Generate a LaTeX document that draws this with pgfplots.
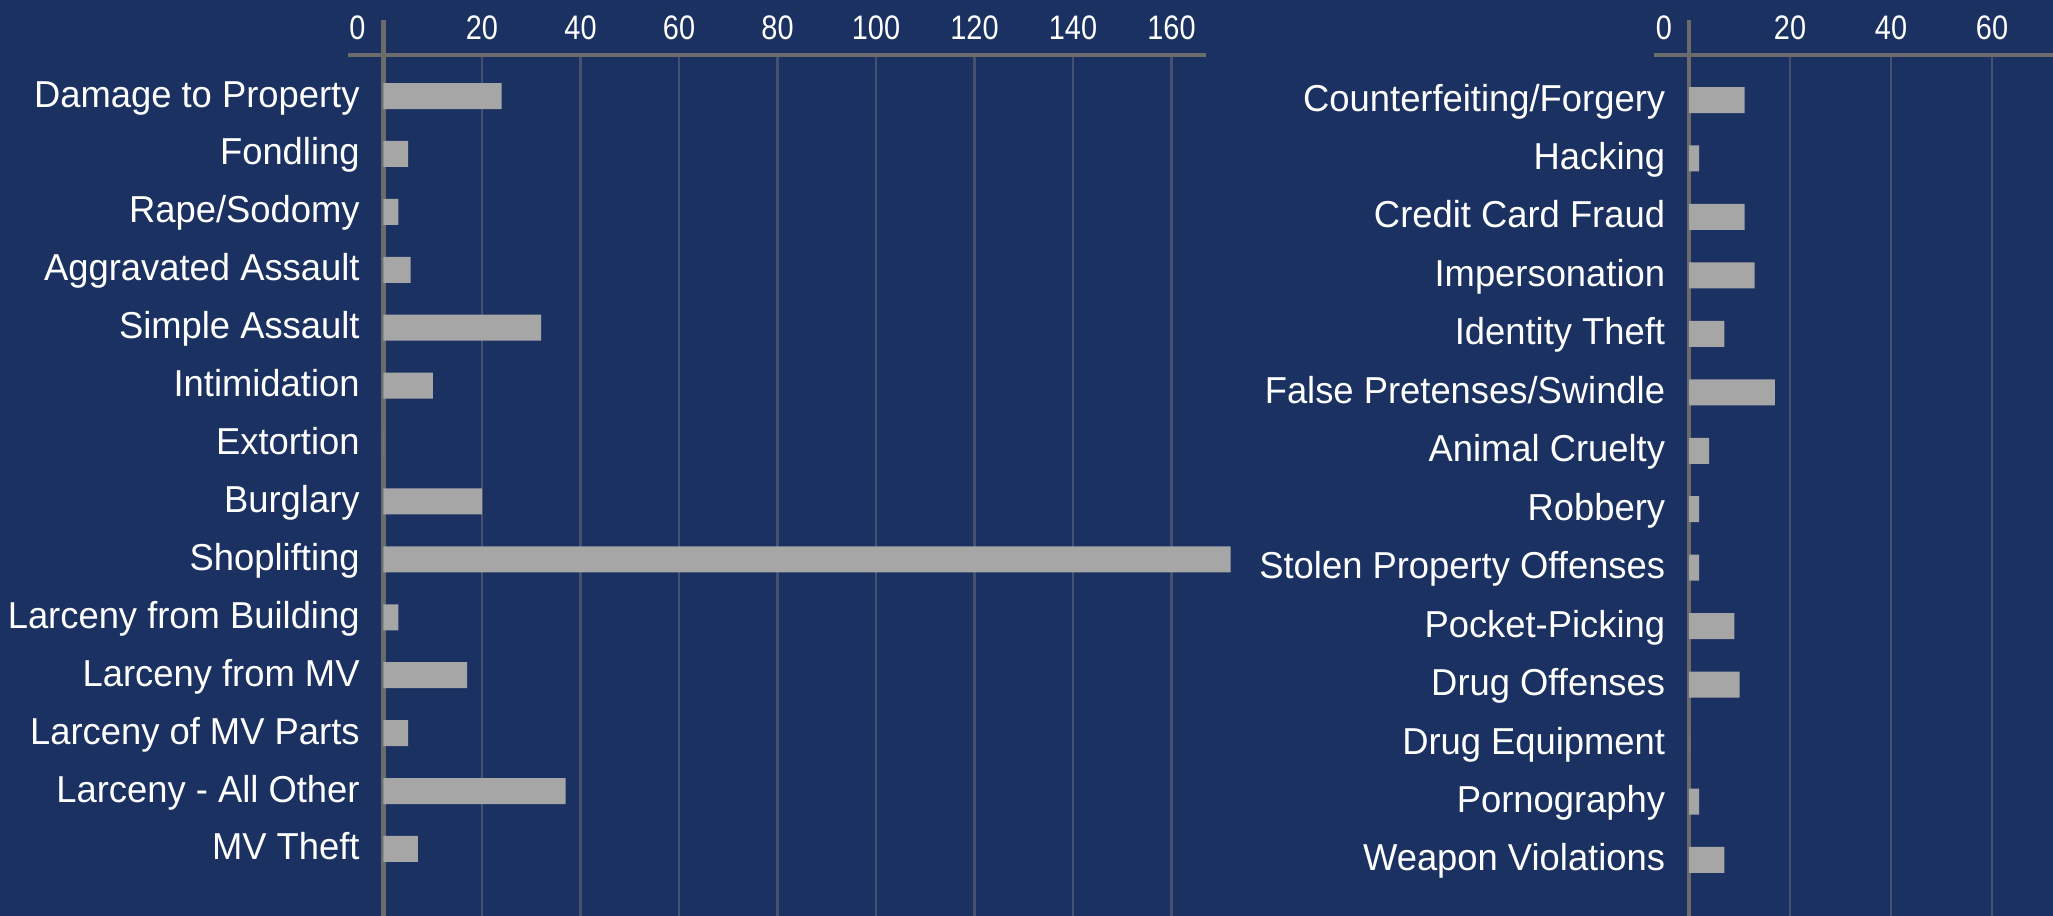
\documentclass[border=0pt]{standalone}
\usepackage{fontspec}
\setmainfont[FakeStretch=0.97]{Liberation Sans}
\newfontfamily\tickfont[FakeStretch=0.85]{Liberation Sans}
\usepackage{pgfplots}
\pgfplotsset{compat=1.18}
\definecolor{bgnavy}{HTML}{1A3161}
\definecolor{barfill}{HTML}{A6A6A6}
\definecolor{axisgray}{HTML}{6B6B6B}
\definecolor{gridc}{HTML}{45526F}

\pgfplotsset{
  crimestyle/.style={
    scale only axis, anchor=south west, height=430.5pt,
    xmin=0, clip=false,
    axis x line*=top, axis y line*=left,
    x axis line style={-, line width=2pt, color=axisgray, shorten <=-17.75pt},
    y axis line style={-, line width=2.2pt, color=axisgray, shorten >=-17.5pt},
    xmajorgrids, ymajorgrids=false,
    grid style={line width=1.25pt, color=gridc},
    major tick length=0pt, tick style={draw=none},
    xticklabel style={font=\tickfont\fontsize{17}{18}\selectfont, text=white, anchor=base, inner sep=0pt, yshift=7.85pt},
    yticklabel style={font=\fontsize{18.75}{20}\selectfont, text=white, anchor=base east, inner sep=0pt, xshift=-11.75pt, yshift=-5.5pt},
    ytick={0,...,13},
    xbar, bar width=13pt, bar shift=0pt,
  }
}

\begin{document}
\begin{tikzpicture}
\fill[bgnavy] (0,0) rectangle (1026.5pt,458pt);

\begin{pgfinterruptboundingbox}
% Left panel
\begin{axis}[crimestyle,
  at={(191.75pt,0pt)}, width=411.25pt,
  xmax=167, ymin=-1.157, ymax=13.708,
  xtick={0,20,40,60,80,100,120,140,160},
  xticklabels={\makebox[0pt][r]{0\hspace{9pt}},20,40,60,80,100,120,140,160},
  yticklabels={MV Theft, Larceny - All Other, Larceny of MV Parts, Larceny from MV, Larceny from Building, Shoplifting, Burglary, Extortion, Intimidation, Simple Assault, Aggravated Assault, Rape/Sodomy, Fondling, Damage to Property},
]
\addplot[fill=barfill, draw=none] coordinates {
  (24,13) (5,12) (3,11) (5.5,10) (32,9) (10,8) (0,7)
  (20,6) (172,5) (3,4) (17,3) (5,2) (37,1) (7,0)
};
\end{axis}

% Right panel
\begin{axis}[crimestyle,
  at={(844.5pt,0pt)}, width=182pt,
  xmax=72.08, ymin=-0.958, ymax=13.77,
  xtick={0,20,40,60},
  xticklabels={\makebox[0pt][r]{0\hspace{8.5pt}},20,40,60},
  yticklabels={Weapon Violations, Pornography, Drug Equipment, Drug Offenses, Pocket-Picking, Stolen Property Offenses, Robbery, Animal Cruelty, False Pretenses/Swindle, Identity Theft, Impersonation, Credit Card Fraud, Hacking, Counterfeiting/Forgery},
]
\addplot[fill=barfill, draw=none] coordinates {
  (11,13) (2,12) (11,11) (13,10) (7,9) (17,8) (4,7)
  (2,6) (2,5) (9,4) (10,3) (0,2) (2,1) (7,0)
};
\end{axis}
\end{pgfinterruptboundingbox}
\end{tikzpicture}
\end{document}
